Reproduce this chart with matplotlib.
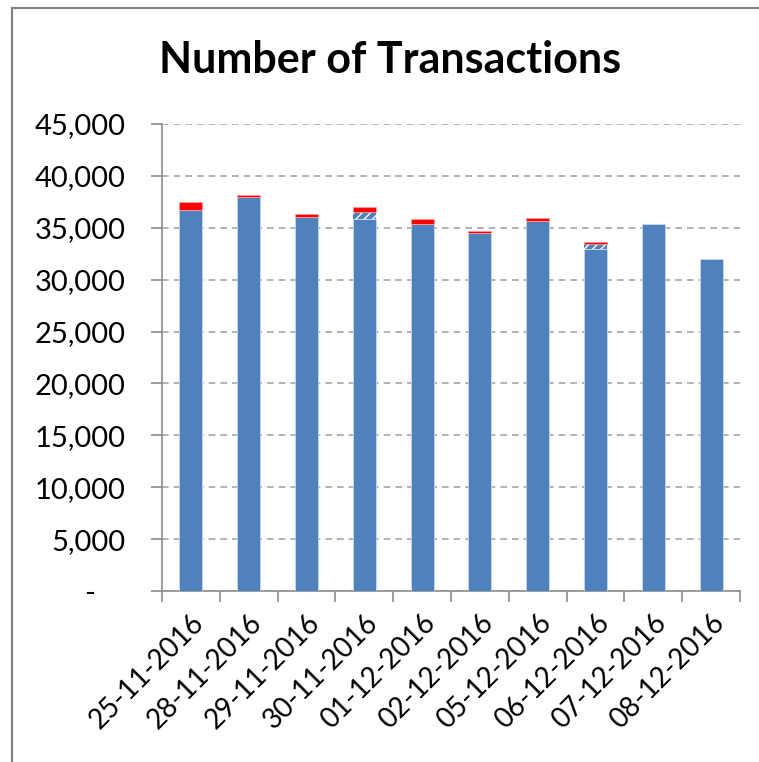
import matplotlib.pyplot as plt
from matplotlib.lines import Line2D
from matplotlib.ticker import FuncFormatter

dates = ["25-11-2016", "28-11-2016", "29-11-2016", "30-11-2016", "01-12-2016",
         "02-12-2016", "05-12-2016", "06-12-2016", "07-12-2016", "08-12-2016"]
completed = [36700, 37930, 36070, 35820, 35330, 34465, 35680, 32950, 35360, 32020]
pending = [0, 0, 0, 730, 0, 0, 0, 450, 0, 0]
failed = [780, 250, 290, 420, 515, 255, 260, 260, 0, 0]

plt.rcParams['font.family'] = ['Lato', 'DejaVu Sans']

fig = plt.figure(figsize=(7.59, 7.62), dpi=100)
ax = fig.add_axes([162 / 759, 1 - 591 / 762, (740 - 162) / 759, (591 - 124) / 762])

x = list(range(len(dates)))
blue = "#4F81BD"
ax.bar(x, completed, width=0.4, color=blue, edgecolor="#c9d7ea", linewidth=0.6, zorder=3)

# only draw the stacked parts that exist, so empty ones leave no edge line
bottom2 = list(completed)
bottom3 = [c + p for c, p in zip(completed, pending)]
for i in x:
    if pending[i] > 0:
        ax.bar(i, pending[i], width=0.4, bottom=bottom2[i], color=blue, edgecolor="white",
               hatch="////", linewidth=0, zorder=3)
    if failed[i] > 0:
        ax.bar(i, failed[i], width=0.4, bottom=bottom3[i], color="#FF0000", edgecolor="#ff9a9a",
               linewidth=0.6, zorder=3)

ax.set_xlim(-0.5, len(dates) - 0.5)
ax.set_ylim(0, 45000)
ax.set_yticks(range(0, 45001, 5000))
ax.yaxis.set_major_formatter(FuncFormatter(lambda v, p: "-    " if v == 0 else f"{int(v):,}"))
ax.grid(axis="y", color="#a6a6a6", linestyle=(0, (4, 3)), linewidth=1.2, zorder=0)

ax.set_xticks([i - 0.5 for i in range(len(dates) + 1)], minor=False)
ax.set_xticklabels([""] * (len(dates) + 1))
ax.set_xticks(x, minor=True)
ax.set_xticklabels(dates, minor=True, rotation=45, ha="right", rotation_mode="anchor", fontsize=20)
ax.tick_params(axis="x", which="minor", length=0, pad=13)
ax.tick_params(axis="x", which="major", length=8, width=1.2, color="#8c8c8c")
ax.tick_params(axis="y", length=8, width=1.2, color="#8c8c8c", labelsize=21, pad=18)

for s in ["top", "right"]:
    ax.spines[s].set_visible(False)
for s in ["left", "bottom"]:
    ax.spines[s].set_color("#8c8c8c")
    ax.spines[s].set_linewidth(1.2)

fig.text(390 / 759, 1 - 60 / 762, "Number of Transactions", ha="center", va="center",
         fontsize=31, fontweight="bold")

fig.add_artist(Line2D([12 / 759, 12 / 759], [0, 1 - 8 / 762], color="#7f7f7f", linewidth=1.5))
fig.add_artist(Line2D([12 / 759, 1], [1 - 8 / 762, 1 - 8 / 762], color="#7f7f7f", linewidth=1.5))

fig.savefig("out.png", dpi=100)
